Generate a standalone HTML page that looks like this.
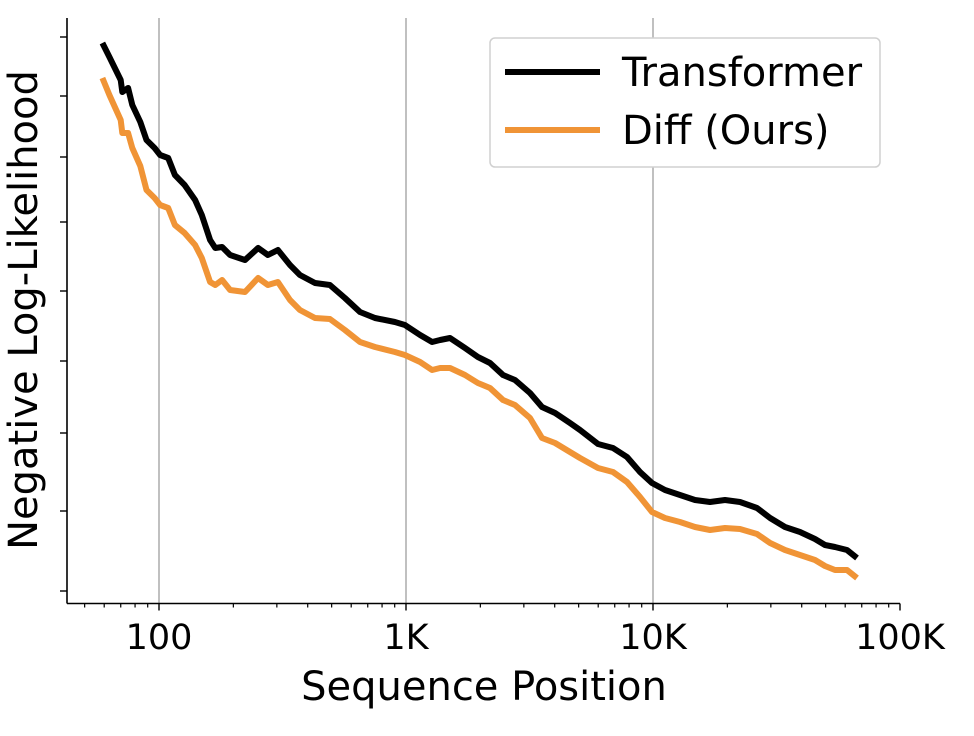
<!DOCTYPE html>
<html><head><meta charset="utf-8"><style>
html,body{margin:0;padding:0;background:#fff;}
svg{display:block;font-family:"DejaVu Sans","Liberation Sans",sans-serif;}
</style></head><body>
<svg id="chart" width="974" height="736" viewBox="0 0 974 736" xmlns="http://www.w3.org/2000/svg"></svg>
<script>
const positions=[59,63,70,71,75,78,84,89,96,101,109,116,127,140,149,161,169,180,194,223,252,276,303,339,372,428,492,566,651,749,902,990,1140,1275,1374,1507,1733,1955,2188,2471,2763,3177,3554,4013,4613,5064,5987,6887,7850,8859,9908,11184,12863,14792,17013,19566,22500,26370,29780,34240,39370,45290,49690,54570,61000,66960];
const transformerNLL=[7.60,7.46,7.23,7.11,7.15,6.98,6.81,6.63,6.55,6.48,6.45,6.28,6.18,6.03,5.88,5.63,5.55,5.56,5.48,5.43,5.55,5.48,5.53,5.38,5.28,5.20,5.18,5.05,4.91,4.85,4.81,4.78,4.68,4.61,4.63,4.65,4.55,4.46,4.40,4.28,4.23,4.10,3.96,3.90,3.80,3.73,3.59,3.55,3.46,3.31,3.20,3.13,3.08,3.03,3.01,3.03,3.01,2.95,2.85,2.76,2.71,2.64,2.58,2.56,2.53,2.45];
const diffNLL=[7.25,7.08,6.83,6.70,6.70,6.55,6.37,6.13,6.05,5.98,5.95,5.78,5.70,5.58,5.45,5.21,5.18,5.23,5.13,5.11,5.25,5.18,5.21,5.03,4.93,4.85,4.84,4.73,4.61,4.56,4.51,4.48,4.41,4.33,4.35,4.35,4.28,4.20,4.15,4.03,3.98,3.85,3.65,3.60,3.51,3.45,3.35,3.31,3.21,3.06,2.91,2.85,2.81,2.76,2.73,2.75,2.74,2.69,2.60,2.53,2.48,2.43,2.37,2.33,2.33,2.25];
const xMajorTicks=[100,1000,10000,100000];
const xTickLabels=["100","1K","10K","100K"];
const yTicks=[7.66,7.07,6.46,5.81,5.12,4.42,3.70,2.92,2.12];

const NS="http://www.w3.org/2000/svg";
const svg=document.getElementById('chart');
const L=67,R=900,T=18,B=603.5;
function xs(v){return 159+(Math.log10(v)-2)*247;}
function ys(v){return 603-(v-2)*100;}
function el(t,a,p){const e=document.createElementNS(NS,t);for(const k in a)e.setAttribute(k,a[k]);(p||svg).appendChild(e);return e;}

xMajorTicks.forEach((t,i)=>{
  if(xs(t)<R-1){const g=el('line',{x1:xs(t),x2:xs(t),y1:T,y2:B,stroke:'#b0b0b0','stroke-width':1.6});
  
  }
});
for(let d=10;d<100000;d*=10){for(let m=2;m<10;m++){const v=d*m;const x=xs(v);if(x>L&&x<R){
  const t=el('line',{x1:x,x2:x,y1:B,y2:B+4,stroke:'#000','stroke-width':1.2});
  
  }}}
xMajorTicks.forEach((t,i)=>{
  const x=xs(t);
  const k=el('line',{x1:x,x2:x,y1:B,y2:B+7,stroke:'#000','stroke-width':1.4});
  
  
  const lb=el('text',{x:x,y:649,'font-size':35,'text-anchor':'middle',fill:'#000'});
  lb.textContent=xTickLabels[i];
  
  
});
yTicks.forEach(v=>{
  const k=el('line',{x1:L-7,x2:L,y1:ys(v),y2:ys(v),stroke:'#000','stroke-width':1.4});
  
  
});
const sl=el('line',{x1:L,x2:L,y1:T,y2:B,stroke:'#000','stroke-width':1.6});


const sb=el('line',{x1:L,x2:R,y1:B,y2:B,stroke:'#000','stroke-width':1.6});



function series(vals,color,name){
  const d=positions.map((p,i)=>(i?'L':'M')+xs(p).toFixed(1)+','+ys(vals[i]).toFixed(1)).join(' ');
  const p=el('path',{d:d,fill:'none',stroke:color,'stroke-width':6,'stroke-linejoin':'round'});
  
  
}
series(diffNLL,'#f09436','diff-ours-line');
series(transformerNLL,'#000000','transformer-line');

const xt=el('text',{x:484,y:700,'font-size':40,'text-anchor':'middle',fill:'#000'});
xt.textContent='Sequence Position';


const yt=el('text',{x:0,y:0,'font-size':40,'text-anchor':'middle',fill:'#000',transform:'translate(37,310) rotate(-90)'});
yt.textContent='Negative Log-Likelihood';



const lg=el('g',{});


el('rect',{x:490,y:38,width:390,height:129,rx:5,fill:'#fff',stroke:'#d0d0d0','stroke-width':1.5},lg);
[['Transformer','#000',72],['Diff (Ours)','#f09436',130]].forEach(([n,c,y])=>{
  const g=el('g',{},lg);
  
  
  el('line',{x1:505,x2:600,y1:y,y2:y,stroke:c,'stroke-width':6},g);
  const t=el('text',{x:622,y:y+14,'font-size':40,fill:'#000'},g);
  t.textContent=n;
});
</script>
</body></html>
